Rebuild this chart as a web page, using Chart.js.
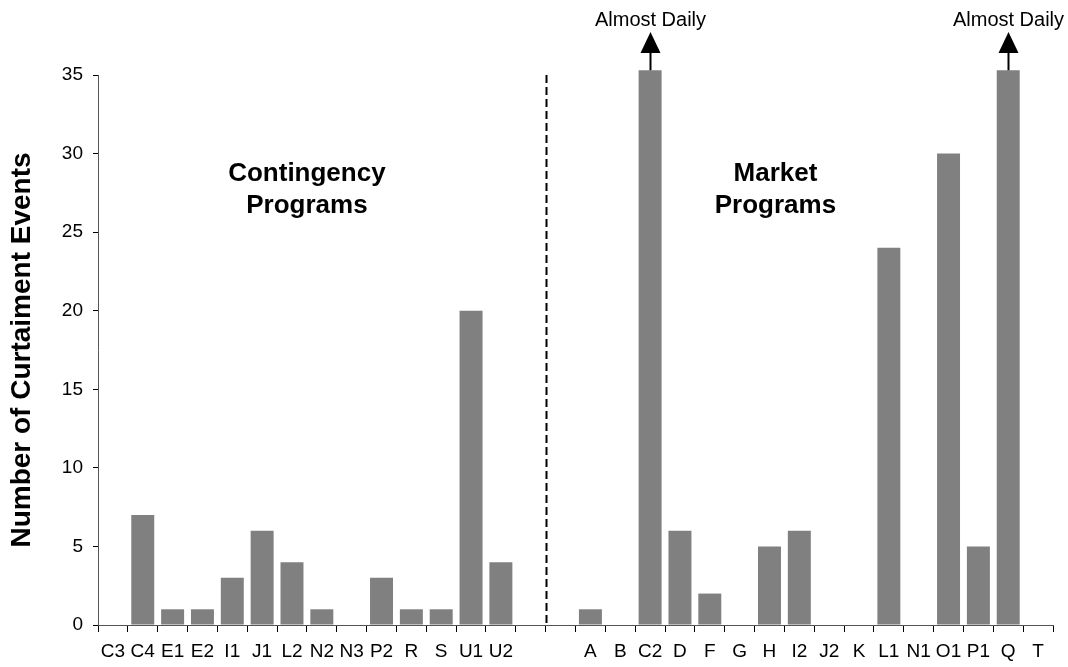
<!DOCTYPE html>
<html>
<head>
<meta charset="utf-8">
<style>
  html, body { margin: 0; padding: 0; background: #fff; }
  #wrap { width: 1068px; height: 667px; }
</style>
<script src="https://cdn.jsdelivr.net/npm/chart.js@4/dist/chart.umd.min.js"></script>
</head>
<body>
<div id="wrap"><canvas id="curtailChart"></canvas></div>
<script>
// programme codes, two empty slots separate the groups
const contingencyLabels = ['C3', 'C4', 'E1', 'E2', 'I1', 'J1', 'L2', 'N2', 'N3', 'P2', 'R', 'S', 'U1', 'U2'];
const marketLabels = ['A', 'B', 'C2', 'D', 'F', 'G', 'H', 'I2', 'J2', 'K', 'L1', 'N1', 'O1', 'P1', 'Q', 'T'];

const contingencyEvents = [0, 7, 1, 1, 3, 6, 4, 1, 0, 3, 1, 1, 20, 4];
const marketEvents = [1, 0, 35.3, 6, 2, 0, 5, 6, 0, 0, 24, 0, 30, 5, 35.3, 0];

// bars that run off the top of the scale
const offScaleNotes = { 'C2': 'Almost Daily', 'Q': 'Almost Daily' };

const yTicks = [0, 5, 10, 15, 20, 25, 30, 35];

const labels = [...contingencyLabels, '', '', ...marketLabels];
const events = [...contingencyEvents, null, null, ...marketEvents];

const FONT = 'Liberation Sans, Arial, Helvetica, sans-serif';

// dashed divider, group headings and the arrows above capped bars
const extras = {
  id: 'extras',
  afterDatasetsDraw(chart) {
    const { ctx, scales: { x, y } } = chart;
    const split = contingencyLabels.length;
    const divX = Math.round((x.getPixelForValue(split) + x.getPixelForValue(split + 1)) / 2) + 0.5;

    ctx.save();
    ctx.strokeStyle = '#000';
    ctx.lineWidth = 2;
    ctx.setLineDash([8, 4]);
    ctx.beginPath();
    ctx.moveTo(divX, y.getPixelForValue(35));
    ctx.lineTo(divX, y.getPixelForValue(0));
    ctx.stroke();
    ctx.setLineDash([]);

    ctx.fillStyle = '#000';
    ctx.textAlign = 'center';
    ctx.textBaseline = 'middle';
    ctx.font = 'bold 26px ' + FONT;
    const cx = x.getPixelForValue(6.5);
    ctx.fillText('Contingency', cx, 174);
    ctx.fillText('Programs', cx, 206);
    const mx = x.getPixelForValue(22.2);
    ctx.fillText('Market', mx, 174);
    ctx.fillText('Programs', mx, 206);

    const meta = chart.getDatasetMeta(0);
    ctx.font = '20px ' + FONT;
    labels.forEach((lab, i) => {
      const note = offScaleNotes[lab];
      if (!note) return;
      const bar = meta.data[i];
      const bx = Math.round(bar.x) + 0.5;
      ctx.lineWidth = 2;
      ctx.beginPath();
      ctx.moveTo(bx, bar.y);
      ctx.lineTo(bx, 52);
      ctx.stroke();
      ctx.beginPath();
      ctx.moveTo(bx, 32);
      ctx.lineTo(bx - 10, 53);
      ctx.lineTo(bx + 10, 53);
      ctx.closePath();
      ctx.fill();
      ctx.fillText(note, bx, 20);
    });
    ctx.restore();
  }
};

new Chart(document.getElementById('curtailChart'), {
  type: 'bar',
  data: {
    labels: labels,
    datasets: [{
      data: events,
      backgroundColor: '#808080',
      borderWidth: 0,
      categoryPercentage: 1,
      barPercentage: 0.77,
      clip: false
    }]
  },
  options: {
    responsive: true,
    maintainAspectRatio: false,
    animation: false,
    layout: { padding: { top: 75, right: 15, bottom: 0, left: 0 } },
    plugins: {
      legend: { display: false },
      tooltip: { enabled: false }
    },
    scales: {
      x: {
        grid: {
          offset: true,
          drawOnChartArea: false,
          tickLength: 7,
          color: '#000'
        },
        border: { color: '#555', width: 1 },
        ticks: {
          autoSkip: false,
          maxRotation: 0,
          padding: 8,
          color: '#000',
          font: { family: FONT, size: 19 }
        },
        afterFit(scale) { scale.height = 42; }
      },
      y: {
        min: 0,
        max: 35,
        afterBuildTicks(scale) { scale.ticks = yTicks.map(v => ({ value: v })); },
        grid: {
          drawOnChartArea: false,
          tickLength: 5,
          color: '#000'
        },
        border: { color: '#555', width: 1 },
        ticks: {
          padding: 10,
          color: '#000',
          font: { family: FONT, size: 19 }
        },
        title: {
          display: true,
          text: 'Number of Curtaiment Events',
          color: '#000',
          font: { family: FONT, size: 28, weight: 'bold' },
          padding: { top: 5, bottom: 0 }
        },
        afterFit(scale) { scale.width = 98; }
      }
    }
  },
  plugins: [extras]
});
</script>
</body>
</html>
